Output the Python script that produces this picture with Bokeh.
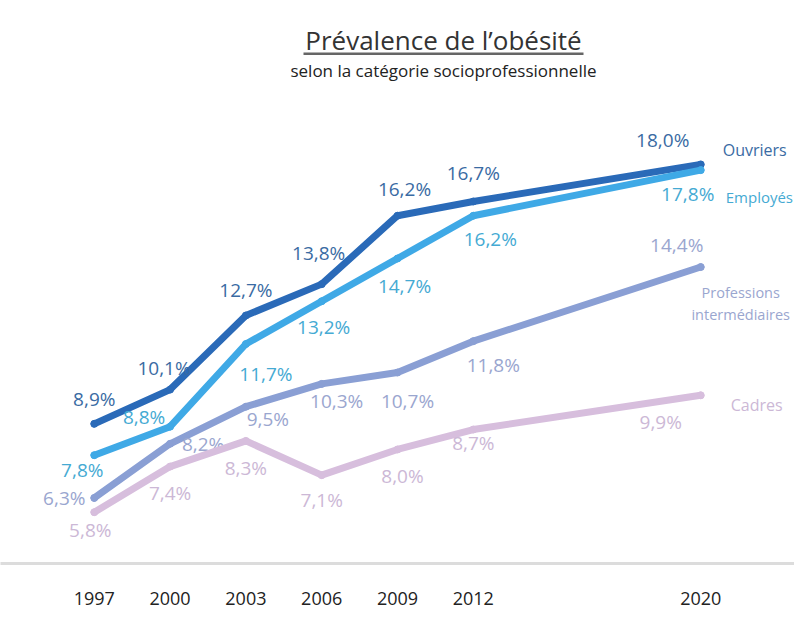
from bokeh.plotting import figure
from bokeh.models import ColumnDataSource, FactorRange, Range1d, Label, BoxAnnotation
from bokeh.core.properties import value
from bokeh.embed import file_html
from bokeh.resources import INLINE

# ---------------- data ----------------
years = ["1997", "2000", "2003", "2006", "2009", "2012", "2020"]
ouvriers = [8.9, 10.1, 12.7, 13.8, 16.2, 16.7, 18.0]
employes = [7.8, 8.8, 11.7, 13.2, 14.7, 16.2, 17.8]
prof_inter = [6.3, 8.2, 9.5, 10.3, 10.7, 11.8, 14.4]
cadres = [5.8, 7.4, 8.3, 7.1, 8.0, 8.7, 9.9]
series_names = ["Ouvriers", "Employés", "Professions\nintermédiaires", "Cadres"]

title_text = "Prévalence de l\u2019obésité"
subtitle_text = "selon la catégorie socioprofessionnelle"

# ---------------- styles ----------------
line_colors = ["#2a6ab8", "#3fa9e6", "#8a9fd4", "#d7bedd"]
label_colors = ["#3a6ba3", "#45aad3", "#9aa6cf", "#ccb8d6"]
# value-label pixel offsets (dx, dy) per point, screen px (dy>0 = down)
label_dx = [
    [0, -6, 0, -3, 7, 0, -38],
    [-12, -26, 20, 2, 7, 17, -13],
    [-30, 33, 22, 15, 10, 20, -24],
    [-4, 0, 0, 0, 5, 0, -40],
]
label_dy = [
    [-25, -22, -25, -31, -27, -28, -24],
    [15, -10, 30, 26, 28, 23, 24],
    [0, 0, 12, 17, 28, 24, -22],
    [18, 26, 27, 25, 27, 13, 27],
]
name_dx = [22, 25, 40, 30]
name_dy = [-14, 27, 36, 10]
name_align = ["left", "left", "center", "left"]
name_size = ["16px", "15px", "14.5px", "16px"]

FONT = "Open Sans"

# x range: data years with blank spacer slots marking the time gap before 2020
x_factors = years[:6] + [" ", "  "] + [years[6]]

p = figure(
    width=794, height=612,
    x_range=FactorRange(factors=x_factors, range_padding=0.737, range_padding_units="absolute"),
    y_range=Range1d(4.0, 23.75),
    output_backend="svg", toolbar_location=None,
    min_border_left=0, min_border_right=0, min_border_top=0, min_border_bottom=49,
)
p.outline_line_color = None
p.xgrid.visible = False
p.ygrid.visible = False
p.yaxis.visible = False
p.background_fill_color = "white"
p.border_fill_color = "white"

xa = p.xaxis[0]
xa.axis_line_color = "#dcdcdc"
xa.axis_line_width = 3
xa.major_tick_line_color = None
xa.minor_tick_line_color = None
xa.major_label_text_font = FONT
xa.major_label_text_font_size = "18px"
xa.major_label_text_color = "#222222"
xa.major_label_standoff = 16

all_series = [ouvriers, employes, prof_inter, cadres]

for i, vals in enumerate(all_series):
    src = ColumnDataSource(dict(
        x=years,
        y=vals,
        lab=[f"{v:.1f}%".replace(".", ",") for v in vals],
        dx=label_dx[i],
        dy=label_dy[i],
    ))
    p.line("x", "y", source=src, line_width=7, line_color=line_colors[i],
           line_cap="round", line_join="round")
    p.scatter("x", "y", source=src, size=7, fill_color=line_colors[i],
              line_color=line_colors[i])
    p.text("x", "y", text="lab", source=src, x_offset="dx", y_offset="dy",
           text_font=value(FONT), text_font_size="19px", text_color=label_colors[i],
           text_align="center", text_baseline="middle")
    # series name near last point
    nsrc = ColumnDataSource(dict(x=[years[-1]], y=[vals[-1]], t=[series_names[i]]))
    p.text("x", "y", text="t", source=nsrc, x_offset=name_dx[i], y_offset=name_dy[i],
           text_font=value(FONT), text_font_size=name_size[i], text_color=label_colors[i],
           text_align=name_align[i], text_baseline="middle", text_line_height=1.16)

# title, underline and subtitle
p.add_layout(Label(x=443, y=22.35, x_units="screen", y_units="data", text=title_text,
                   text_font=FONT, text_font_size="26px", text_color="#333333",
                   text_align="center", text_baseline="middle"))
p.add_layout(BoxAnnotation(left=303, right=583, left_units="screen", right_units="screen",
                           top=21.93, bottom=21.84, fill_color="#666666", fill_alpha=1,
                           line_color=None))
p.add_layout(Label(x=443, y=21.3, x_units="screen", y_units="data", text=subtitle_text,
                   text_font=FONT, text_font_size="17px", text_color="#222222",
                   text_align="center", text_baseline="middle"))

open("out.html", "w").write(file_html(p, INLINE))
